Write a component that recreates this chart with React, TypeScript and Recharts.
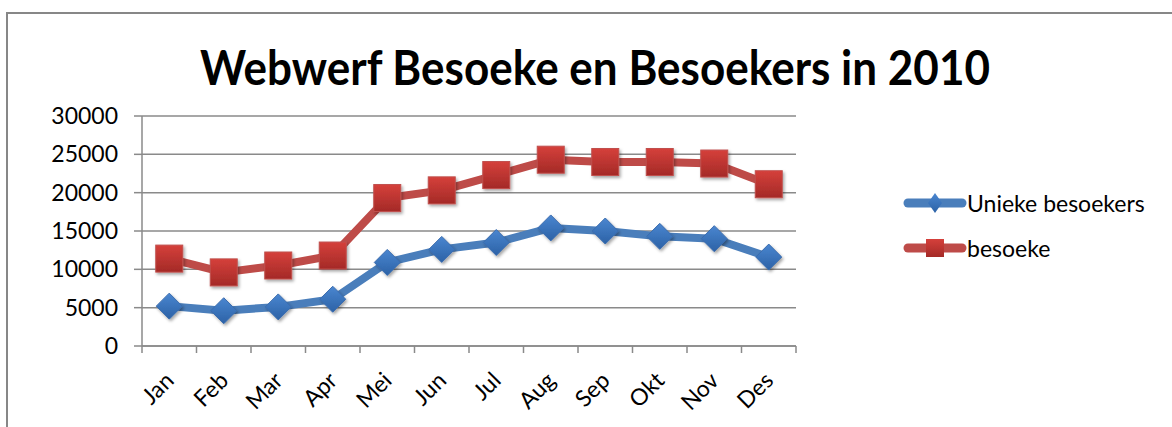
import React from "react";
import { LineChart, Line, XAxis, YAxis, CartesianGrid, Legend } from "recharts";

const months = ["Jan", "Feb", "Mar", "Apr", "Mei", "Jun", "Jul", "Aug", "Sep", "Okt", "Nov", "Des"];
const uniekeBesoekers = [5200, 4600, 5100, 6100, 10900, 12600, 13500, 15400, 15000, 14300, 14000, 11600];
const besoeke = [11400, 9600, 10500, 11800, 19300, 20300, 22300, 24300, 24000, 24000, 23800, 21100];
const yTicks = [0, 5000, 10000, 15000, 20000, 25000, 30000];

const W = 1172;
const H = 427;
const X_AXIS_H = 81;
const MARGIN = { top: 116, right: 376, bottom: 0, left: 0 };
const Y_AXIS_W = 142;
const BW = (W - MARGIN.left - MARGIN.right - Y_AXIS_W) / months.length;

const FONT = "Lato, 'Open Sans', sans-serif";
const GRID = "#8a8a8a";
const BLUE = "#4a7ebb";
const RED = "#be4b48";

const data = months.map((m, i) => ({ month: m, unieke: uniekeBesoekers[i], besoeke: besoeke[i] }));

function MonthTick(props: any) {
  const { x, y, payload, index } = props;
  const tx = x + 6;
  const ty = y + 36;
  return (
    <g>
      <line x1={x - BW / 2} y1={y} x2={x - BW / 2} y2={y + 7} stroke={GRID} strokeWidth={1.5} />
      {index === months.length - 1 && (
        <line x1={x + BW / 2} y1={y} x2={x + BW / 2} y2={y + 7} stroke={GRID} strokeWidth={1.5} />
      )}
      <text
        x={tx}
        y={ty}
        transform={`rotate(-45 ${tx} ${ty})`}
        textAnchor="end"
        fontFamily={FONT}
        fontSize={23}
        fill="#000"
      >
        {payload.value}
      </text>
    </g>
  );
}

function Diamond({ cx, cy, r }: { cx: number; cy: number; r: number }) {
  return (
    <polygon
      points={`${cx},${cy - r} ${cx + r},${cy} ${cx},${cy + r} ${cx - r},${cy}`}
      fill="url(#blueGrad)"
      stroke="#3a6cae"
      strokeWidth={1}
      filter="url(#shadow)"
    />
  );
}

function Square({ cx, cy, r }: { cx: number; cy: number; r: number }) {
  return (
    <rect
      x={cx - r}
      y={cy - r}
      width={r * 2}
      height={r * 2}
      fill="url(#redGrad)"
      stroke="#c0504d"
      strokeWidth={1}
      filter="url(#shadow)"
    />
  );
}

function LegendBox() {
  const rows = [
    { label: "Unieke besoekers", color: BLUE, kind: "diamond" },
    { label: "besoeke", color: RED, kind: "square" },
  ];
  return (
    <div style={{ fontFamily: FONT, fontSize: 23, color: "#000" }}>
      {rows.map((r) => (
        <div key={r.label} style={{ display: "flex", alignItems: "center", height: 45 }}>
          <svg width={62} height={24} style={{ overflow: "visible" }}>
            <line x1={4} y1={12} x2={58} y2={12} stroke={r.color} strokeWidth={9} strokeLinecap="round" />
            {r.kind === "diamond" ? (
              <polygon points="31,2 38,12 31,22 24,12" fill="url(#blueGrad)" />
            ) : (
              <rect x={22} y={3} width={18} height={18} fill="url(#redGrad)" />
            )}
          </svg>
          <span style={{ marginLeft: 1 }}>{r.label}</span>
        </div>
      ))}
    </div>
  );
}

export default function App() {
  return (
    <div style={{ position: "absolute", left: 0, top: 0, width: W, height: H, overflow: "hidden", background: "#fff" }}>
      <svg width={0} height={0} style={{ position: "absolute" }}>
        <defs>
          <linearGradient id="blueGrad" x1="0" y1="0" x2="0" y2="1">
            <stop offset="0%" stopColor="#4a86d0" />
            <stop offset="100%" stopColor="#2c62a6" />
          </linearGradient>
          <linearGradient id="redGrad" x1="0" y1="0" x2="0" y2="1">
            <stop offset="0%" stopColor="#d5403b" />
            <stop offset="100%" stopColor="#a42a27" />
          </linearGradient>
          <filter id="shadow" x="-50%" y="-50%" width="200%" height="200%">
            <feDropShadow dx={1.5} dy={2} stdDeviation={1.5} floodColor="#000" floodOpacity={0.35} />
          </filter>
        </defs>
      </svg>
      <div
        style={{
          position: "absolute",
          left: 6,
          top: 12,
          width: W,
          height: H,
          borderLeft: "2px solid #878787",
          borderTop: "2px solid #878787",
        }}
      />
      <svg width={W} height={100} style={{ position: "absolute", left: 0, top: 0 }}>
        <text
          x={595}
          y={85}
          textAnchor="middle"
          fontFamily={FONT}
          fontWeight="bold"
          fontSize={47}
          textLength={790}
          lengthAdjust="spacingAndGlyphs"
          fill="#000"
        >
          Webwerf Besoeke en Besoekers in 2010
        </text>
      </svg>
      <div style={{ position: "absolute", left: 0, top: 0 }}>
        <LineChart width={W} height={H} data={data} margin={MARGIN}>
          <CartesianGrid vertical={false} stroke={GRID} strokeWidth={1.5} />
          <XAxis
            dataKey="month"
            padding={{ left: BW / 2, right: BW / 2 }}
            axisLine={{ stroke: GRID, strokeWidth: 1.5 }}
            tickLine={false}
            tickSize={0}
            tickMargin={0}
            interval={0}
            height={X_AXIS_H}
            tick={<MonthTick />}
          />
          <YAxis
            width={Y_AXIS_W}
            domain={[0, 30000]}
            ticks={yTicks}
            interval={0}
            axisLine={{ stroke: GRID, strokeWidth: 1.5 }}
            tickLine={{ stroke: GRID, strokeWidth: 1.5 }}
            tickSize={8}
            tickMargin={16}
            tick={{ fontFamily: FONT, fontSize: 23, fill: "#000" }}
          />
          <Legend
            layout="horizontal"
            align="center"
            verticalAlign="middle"
            content={() => <LegendBox />}
            wrapperStyle={{ position: "absolute", left: 904, top: 180, width: 260, bottom: "auto" }}
          />
          <Line
            type="linear"
            dataKey="unieke"
            name="Unieke besoekers"
            stroke={BLUE}
            strokeWidth={8}
            strokeLinejoin="round"
            isAnimationActive={false}
            activeDot={false}
            dot={(p: any) => <Diamond key={`d${p.index}`} cx={p.cx} cy={p.cy} r={13} />}
          />
          <Line
            type="linear"
            dataKey="besoeke"
            name="besoeke"
            stroke={RED}
            strokeWidth={8}
            strokeLinejoin="round"
            isAnimationActive={false}
            activeDot={false}
            dot={(p: any) => <Square key={`s${p.index}`} cx={p.cx} cy={p.cy} r={13.5} />}
          />
        </LineChart>
      </div>
    </div>
  );
}
